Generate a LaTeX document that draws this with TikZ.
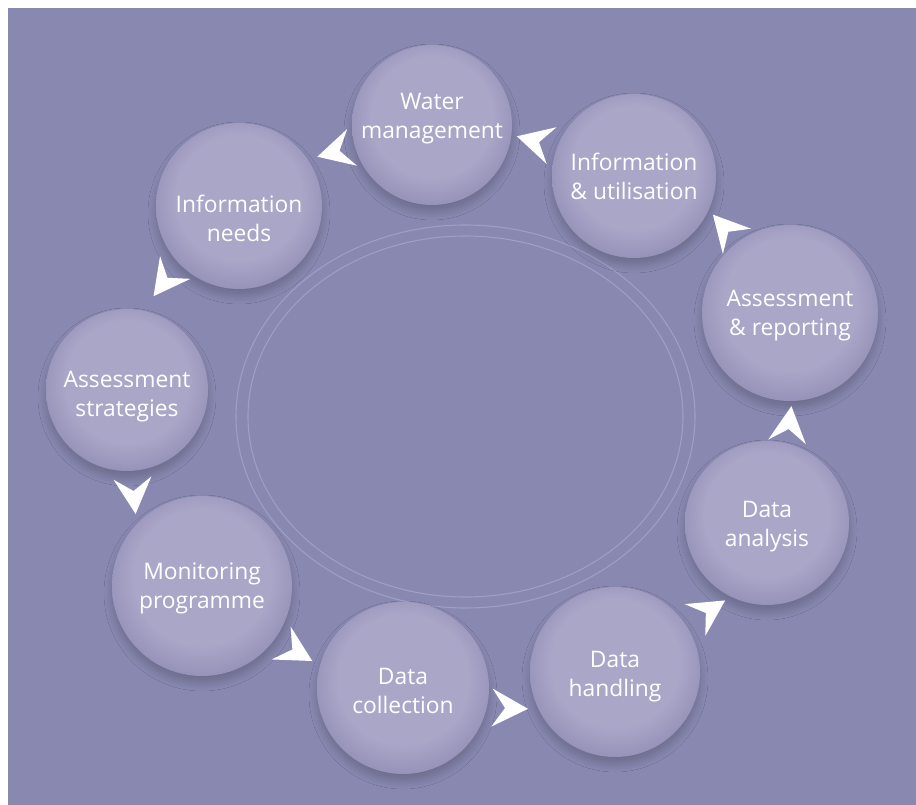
\documentclass[tikz,border=0pt]{standalone}
\usepackage{fontspec}
\newfontfamily\labfont{Open Sans}
\usetikzlibrary{calc,shadows.blur}
\definecolor{bg}{RGB}{136,136,177}
\definecolor{balllight}{RGB}{170,166,200}
\definecolor{balldark}{RGB}{149,144,183}
\definecolor{ballrim}{RGB}{163,159,195}
\definecolor{ringcol}{RGB}{160,158,196}
\pgfdeclareradialshading{bubble}{\pgfpoint{0bp}{4bp}}{color(0bp)=(balllight); color(19bp)=(balllight); color(27.5bp)=(balldark); color(29bp)=(ballrim); color(50bp)=(ballrim)}
\tikzset{
  ball/.style={circle, shading=bubble, minimum size=#1, inner sep=0pt,
    blur shadow={shadow xshift=0pt, shadow yshift=-7pt, shadow blur radius=8pt, shadow opacity=20}},
  lab/.style={text=white, align=center, inner sep=0pt, font=\labfont\fontsize{22.8}{29}\selectfont},
  ringline/.style={draw=ringcol, line width=1.1pt},
  chev/.pic={\fill[white] (24,0) -- (-12,19) -- (1,0) -- (-12,-19) -- cycle;}
}
\begin{document}
\begin{tikzpicture}[x=1pt,y=-1pt]
\useasboundingbox (0,0) rectangle (916,805);
\fill[white] (0,0) rectangle (916,805);
\fill[bg] (8,8) rectangle (916,805);
\coordinate (ctr) at (465.5,416.5);
\draw[ringline] (ctr) ellipse [x radius=229.5, y radius=191.5];
\draw[ringline] (ctr) ellipse [x radius=217.5, y radius=180.5];

\node[ball=160pt, label={[lab,yshift=6pt]center:Water\\management}] (W) at (432,125) {};
\node[ball=164pt, label={[lab]center:Information\\\&\ utilisation}] (IU) at (634,176) {};
\node[ball=176pt, label={[lab,yshift=-3pt]center:Assessment\\\&\ reporting}] (AR) at (790,313) {};
\node[ball=164pt, label={[lab,yshift=-4pt]center:Data\\analysis}] (DA) at (767,523) {};
\node[ball=170pt, label={[lab,yshift=-5pt]center:Data\\handling}] (DH) at (615,672) {};
\node[ball=172pt, label={[lab,yshift=-3pt]center:Data\\collection}] (DC) at (403,688) {};
\node[ball=180pt, label={[lab,yshift=-2pt]center:Monitoring\\programme}] (MP) at (202,586) {};
\node[ball=162pt, label={[lab,yshift=-7pt]center:Assessment\\strategies}] (AS) at (127,390) {};
\node[ball=166pt, label={[lab,yshift=-12pt]center:Information\\needs}] (IN) at (239,206) {};

\pic[rotate=165] at ($(IU)!0.5!(W)+(7,-8)$) {chev};
\pic[rotate=195] at ($(W)!0.5!(IN)+(5,-15)$) {chev};
\pic[rotate=233] at ($(IN)!0.5!(AS)+(-15,-21)$) {chev};
\pic[rotate=275] at ($(AS)!0.5!(MP)+(-31,2)$) {chev};
\pic[rotate=330] at ($(MP)!0.5!(DC)+(-11,12)$) {chev};
\pic[rotate=358] at ($(DC)!0.5!(DH)+(-5,28)$) {chev};
\pic[rotate=33]  at ($(DH)!0.5!(DA)+(14,16)$) {chev};
\pic[rotate=83]  at ($(DA)!0.5!(AR)+(10,12)$) {chev};
\pic[rotate=132] at ($(AR)!0.5!(IU)+(17,-12)$) {chev};
\end{tikzpicture}
\end{document}
